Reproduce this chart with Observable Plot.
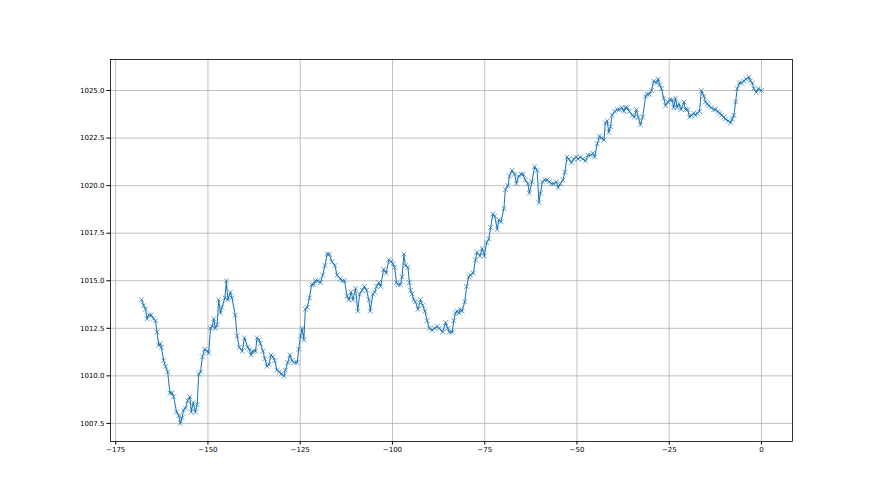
<!DOCTYPE html>
<html><head><meta charset="utf-8">
<script src="https://cdn.jsdelivr.net/npm/d3@7"></script>
<script src="https://cdn.jsdelivr.net/npm/@observablehq/plot@0.6"></script>
<style>html,body{margin:0;padding:0;background:#fff} svg{display:block}</style>
</head><body><div id="chart"></div>
<script>
const hours = [
-168.0,-167.4,-166.9,-166.5,-166.0,-165.4,-164.7,-164.2,-163.8,-163.3,-162.9,-162.6,-162.0,-161.5,-160.9,-160.3,-159.7,-159.3,-158.5,-157.9,-157.5,-157.0,-156.6,-156.1,-155.5,-154.9,-154.5,-154.0,-153.4,-152.9,-152.5,-152.0,-151.5,-150.9,-150.2,-149.8,-149.3,-148.9,-148.4,-148.0,-147.5,-147.1,-146.6,-146.2,-145.4,-145.0,-144.6,-143.9,-143.5,-142.6,-142.1,-141.5,
-140.7,-140.1,-139.2,-138.8,-138.3,-137.8,-137.1,-136.7,-136.2,-135.8,-135.1,-134.6,-134.0,-133.5,-132.9,-132.4,-131.9,-131.3,-130.6,-130.1,-129.4,-129.0,-128.4,-127.8,-127.2,-126.6,-125.8,-125.4,-124.9,-124.5,-124.0,-123.6,-123.1,-122.5,-121.9,-121.3,-120.9,-120.2,-119.5,-118.9,-118.3,-117.7,-117.1,-116.4,-115.6,-115.0,-114.1,
-113.6,-113.0,-112.3,-111.8,-111.2,-110.7,-110.0,-109.4,-108.9,-108.2,-107.6,-107.0,-106.4,-106.0,-105.3,-104.8,-104.3,-103.7,-103.2,-102.4,-101.7,-101.0,-100.4,-99.9,-99.4,-98.9,-98.5,-97.8,-97.4,-96.9,-96.5,-95.8,-95.4,-95.1,-94.7,-94.2,-93.8,-93.1,-92.4,-91.8,-91.2,-90.6,-90.0,-89.2,-88.6,-87.9,-87.3,
-86.4,-85.6,-85.0,-84.6,-83.8,-83.4,-82.9,-82.5,-82.0,-81.6,-81.1,-80.4,-79.9,-79.3,-78.9,-78.1,-77.5,-77.1,-76.3,-75.7,-75.1,-74.5,-73.9,-73.4,-72.8,-72.3,-71.6,-71.2,-70.6,-69.8,-69.4,-68.7,-68.3,-67.6,-66.9,-66.4,-65.8,-65.1,-64.6,-64.0,-63.3,-62.9,-62.2,-61.5,-60.8,-60.3,
-59.9,-59.4,-58.7,-58.1,-57.5,-56.9,-56.3,-55.6,-55.1,-54.5,-53.8,-53.3,-52.7,-52.2,-51.5,-50.9,-50.2,-49.7,-49.1,-48.4,-47.7,-47.0,-46.3,-45.7,-45.2,-44.5,-43.9,-43.4,-42.7,-42.3,-41.8,-41.4,-40.9,-40.5,-39.8,-39.1,-38.5,-37.8,-37.3,-36.9,-36.4,-35.8,-35.0,-34.4,-33.9,-33.4,-32.8,
-32.2,-31.4,-31.0,-30.4,-29.8,-29.2,-28.5,-28.0,-27.6,-27.1,-26.5,-26.0,-25.4,-24.8,-24.2,-23.8,-23.3,-22.9,-22.4,-21.8,-21.0,-20.6,-20.0,-19.5,-19.0,-18.3,-17.9,-17.4,-16.8,-16.3,-15.6,-15.2,-14.7,-14.3,-13.6,-12.9,-12.5,-11.8,-11.4,-10.8,-10.2,-9.8,-9.0,-8.4,-7.9,-7.5,-7.0,-6.6,-6.0,-5.4,-4.8,-4.2,-3.4,-3.0,-2.5,-2.1,-1.4,-0.9,0.0
];
const pressure = [
1014.0,1013.7,1013.5,1013.0,1013.2,1013.2,1013.0,1012.9,1012.3,1011.6,1011.7,1011.5,1010.8,1010.5,1010.2,1009.1,1009.1,1008.9,1008.1,1007.9,1007.5,1007.8,1008.2,1008.3,1008.7,1008.9,1008.1,1008.6,1008.1,1008.5,1010.1,1010.2,1011.0,1011.4,1011.3,1011.2,1012.5,1012.6,1013.0,1012.5,1012.7,1014.0,1013.3,1013.6,1014.1,1015.0,1014.0,1014.4,1014.1,1013.2,1012.1,1011.5,
1011.3,1012.0,1011.5,1011.4,1011.1,1011.3,1011.3,1012.0,1011.9,1011.7,1011.3,1010.9,1010.5,1010.6,1011.1,1011.0,1010.8,1010.3,1010.2,1010.1,1010.0,1010.3,1010.7,1011.1,1010.8,1010.7,1010.7,1011.4,1012.1,1012.5,1011.9,1013.5,1013.6,1014.1,1014.8,1014.8,1015.0,1015.0,1014.9,1015.3,1015.8,1016.4,1016.4,1016.0,1015.8,1015.3,1015.1,
1015.0,1015.0,1014.2,1014.0,1014.4,1014.0,1014.6,1013.4,1014.3,1014.5,1014.7,1014.5,1014.0,1013.4,1014.3,1014.4,1014.7,1014.9,1014.7,1015.6,1015.4,1016.1,1016.0,1015.9,1015.7,1014.9,1014.8,1014.8,1015.2,1016.4,1015.8,1015.7,1014.9,1014.5,1014.3,1014.0,1013.9,1013.5,1014.0,1013.7,1013.4,1012.9,1012.5,1012.4,1012.5,1012.6,1012.5,
1012.3,1012.8,1012.5,1012.3,1012.3,1012.9,1013.3,1013.4,1013.3,1013.5,1013.4,1013.9,1014.7,1015.2,1015.3,1015.4,1016.1,1016.5,1016.3,1016.7,1016.3,1017.0,1017.2,1017.8,1018.5,1018.4,1017.7,1018.2,1018.1,1018.8,1019.8,1020.0,1020.5,1020.8,1020.6,1020.1,1020.5,1020.6,1020.6,1020.3,1020.1,1019.6,1020.2,1021.0,1020.8,1019.1,
1019.6,1020.2,1020.3,1020.3,1020.2,1020.1,1020.1,1020.2,1019.9,1020.1,1020.3,1020.7,1021.5,1021.4,1021.2,1021.4,1021.5,1021.4,1021.5,1021.4,1021.3,1021.6,1021.6,1021.7,1021.5,1022.2,1022.6,1022.5,1022.4,1023.3,1023.4,1022.8,1023.1,1023.7,1023.9,1024.0,1024.0,1024.1,1023.9,1024.1,1024.1,1023.9,1023.7,1023.6,1024.0,1023.6,1023.2,
1023.6,1024.7,1024.8,1024.8,1025.0,1025.5,1025.4,1025.6,1025.3,1025.1,1024.6,1024.2,1024.4,1024.5,1024.5,1024.1,1024.6,1024.1,1024.3,1024.0,1024.4,1024.0,1024.0,1023.6,1023.7,1023.8,1023.7,1023.8,1023.9,1025.0,1024.7,1024.4,1024.3,1024.2,1024.1,1024.0,1024.0,1023.9,1023.8,1023.7,1023.6,1023.5,1023.4,1023.3,1023.5,1023.7,1024.4,1025.1,1025.4,1025.4,1025.5,1025.6,1025.7,1025.5,1025.4,1025.1,1024.9,1025.1,1025.0
];
const xTicks = [-175, -150, -125, -100, -75, -50, -25, 0];
const yTicks = [1007.5, 1010.0, 1012.5, 1015.0, 1017.5, 1020.0, 1022.5, 1025.0];

const data = hours.map((h, i) => ({h, p: pressure[i]}));
const color = "#1f77b4";

const chart = Plot.plot({
  width: 880,
  height: 495,
  marginLeft: 110,
  marginRight: 88,
  marginTop: 59,
  marginBottom: 54,
  style: {fontFamily: "DejaVu Sans", fontSize: "7px", background: "white", color: "black", overflow: "visible"},
  x: {domain: [-176.4, 8.4]},
  y: {domain: [1006.55, 1026.63]},
  marks: [
    Plot.gridX(xTicks, {stroke: "#b0b0b0", strokeOpacity: 1, strokeWidth: 0.8}),
    Plot.gridY(yTicks, {stroke: "#b0b0b0", strokeOpacity: 1, strokeWidth: 0.8}),
    Plot.line(data, {x: "h", y: "p", stroke: color, strokeWidth: 1.05}),
    Plot.dot(data, {x: "h", y: "p", symbol: "times", r: 2.3, stroke: color, strokeWidth: 0.7}),
    Plot.frame({stroke: "black", strokeWidth: 0.8}),
    Plot.axisX(xTicks, {tickSize: 3.5, tickPadding: 2, fontSize: 7, label: null,
      tickFormat: d => d < 0 ? "\u2212" + (-d) : String(d)}),
    Plot.axisY(yTicks, {tickSize: 3.5, tickPadding: 2.5, fontSize: 7, label: null,
      tickFormat: d => d.toFixed(1)})
  ]
});
document.getElementById("chart").appendChild(chart);
</script>
</body></html>
